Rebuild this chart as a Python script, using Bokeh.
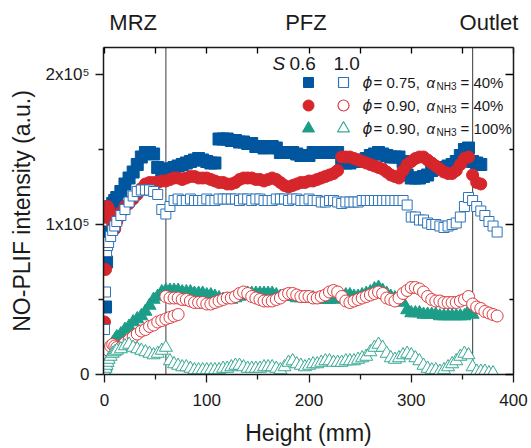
from bokeh.plotting import figure
from bokeh.models import Range1d, LinearAxis, FixedTicker, Span
from bokeh.core.properties import value
from bokeh.embed import file_html
from bokeh.resources import INLINE

# ---------------- data (NO-PLIF intensity in units of 1e5 a.u.) ----------------
heights = [0, 1, 2, 3, 4, 6, 8, 10] + list(range(12, 388, 4))

# phi=0.75, a_NH3=40%, S=0.6 (filled squares)
blue_s06 = [0.10, 0.45, 0.75, 0.95, 1.05, 1.12, 1.14, 1.16, 1.18, 1.22, 1.27, 1.31, 1.35, 1.40, 1.45, 1.48,
            1.48, 1.47, 1.38, 1.36, 1.37, 1.37, 1.38, 1.39, 1.40, 1.41, 1.42, 1.43, 1.44, 1.43, 1.42, 1.41,
            1.41, 1.57, 1.57, 1.57, 1.56, 1.56, 1.55, 1.55, 1.54, 1.54, 1.52, 1.52, 1.51, 1.52, 1.52, 1.51,
            1.48, 1.48, 1.48, 1.48, 1.47, 1.46, 1.46, 1.46, 1.48, 1.48, 1.48, 1.48, 1.48, 1.48, 1.48, 1.42,
            1.41, 1.41, 1.42, 1.42, 1.43, 1.44, 1.46, 1.47, 1.48, 1.47, 1.46, 1.45, 1.45, 1.45, 1.42, 1.33,
            1.31, 1.31, 1.31, 1.32, 1.33, 1.36, 1.37, 1.38, 1.38, 1.39, 1.40, 1.42, 1.46, 1.50, 1.51, 1.42,
            1.41, 1.40]
# phi=0.90, a_NH3=40%, S=0.6 (filled circles)
red_s06 = [0.35, 0.70, 1.05, 1.12, 1.10, 1.05, 1.00, 0.97, 1.02, 1.08, 1.12, 1.14, 1.17, 1.20, 1.24, 1.27,
           1.28, 1.28, 1.28, 1.29, 1.29, 1.30, 1.31, 1.31, 1.30, 1.31, 1.32, 1.32, 1.31, 1.31, 1.31, 1.30,
           1.29, 1.28, 1.28, 1.27, 1.27, 1.28, 1.30, 1.31, 1.31, 1.31, 1.30, 1.30, 1.29, 1.30, 1.31, 1.30,
           1.28, 1.26, 1.25, 1.26, 1.27, 1.28, 1.28, 1.29, 1.29, 1.30, 1.31, 1.32, 1.33, 1.34, 1.36, 1.45,
           1.45, 1.45, 1.44, 1.43, 1.42, 1.41, 1.40, 1.39, 1.38, 1.37, 1.35, 1.33, 1.32, 1.31, 1.36, 1.40,
           1.42, 1.44, 1.45, 1.45, 1.43, 1.41, 1.39, 1.37, 1.35, 1.34, 1.34, 1.36, 1.40, 1.44, 1.45, 1.33,
           1.28, 1.27]
# phi=0.90, a_NH3=100%, S=0.6 (filled triangles)
teal_s06 = [0.02, 0.05, 0.08, 0.11, 0.14, 0.18, 0.21, 0.23, 0.25, 0.27, 0.30, 0.32, 0.35, 0.37, 0.39, 0.42,
            0.46, 0.50, 0.52, 0.55, 0.56, 0.56, 0.56, 0.56, 0.55, 0.55, 0.55, 0.54, 0.54, 0.54, 0.53, 0.53,
            0.52, 0.51, 0.50, 0.50, 0.50, 0.51, 0.52, 0.53, 0.54, 0.54, 0.54, 0.54, 0.54, 0.54, 0.54, 0.53,
            0.52, 0.52, 0.52, 0.52, 0.51, 0.51, 0.51, 0.51, 0.51, 0.50, 0.50, 0.50, 0.50, 0.50, 0.51, 0.52,
            0.53, 0.53, 0.52, 0.52, 0.53, 0.54, 0.55, 0.57, 0.58, 0.56, 0.54, 0.52, 0.51, 0.50, 0.48, 0.43,
            0.41, 0.41, 0.41, 0.40, 0.40, 0.40, 0.40, 0.39, 0.39, 0.39, 0.39, 0.39, 0.39, 0.39, 0.42, 0.40]
# phi=0.75, a_NH3=40%, S=1.0 (open squares)
blue_s10 = [0.30, 0.55, 0.82, 0.86, 0.88, 0.92, 0.96, 0.99, 1.02, 1.06, 1.10, 1.15, 1.19, 1.22, 1.23, 1.23,
            1.23, 1.22, 1.20, 1.10, 1.07, 1.12, 1.16, 1.17, 1.16, 1.16, 1.17, 1.16, 1.16, 1.16, 1.17, 1.16,
            1.16, 1.17, 1.17, 1.17, 1.17, 1.17, 1.16, 1.17, 1.17, 1.16, 1.17, 1.17, 1.16, 1.16, 1.16, 1.17,
            1.17, 1.17, 1.16, 1.17, 1.17, 1.16, 1.16, 1.17, 1.16, 1.16, 1.15, 1.15, 1.16, 1.16, 1.15, 1.14,
            1.15, 1.15, 1.15, 1.15, 1.16, 1.16, 1.16, 1.16, 1.16, 1.16, 1.16, 1.16, 1.16, 1.16, 1.16, 1.13,
            1.05, 1.05, 1.03, 1.03, 1.01, 1.00, 1.00, 0.99, 0.98, 0.99, 1.00, 1.01, 1.05, 1.12, 1.18, 1.16,
            1.12, 1.09, 1.06, 1.02, 0.99, 0.95]
# phi=0.90, a_NH3=40%, S=1.0 (open circles): first window and main windows
red_s10_mrz_h = [0, 1, 2, 3, 4, 6, 8, 10, 12, 16, 20, 24, 28, 32, 36, 40, 44, 48, 52, 56, 60, 64, 68, 72]
red_s10_mrz = [0.03, 0.06, 0.10, 0.13, 0.16, 0.19, 0.20, 0.19, 0.18, 0.18, 0.21, 0.23, 0.25, 0.27, 0.29,
               0.30, 0.32, 0.33, 0.35, 0.36, 0.37, 0.38, 0.39, 0.40]
red_s10_pfz_h = list(range(60, 388, 4))
red_s10_pfz = [0.52, 0.51, 0.51, 0.51, 0.50, 0.50, 0.49, 0.48, 0.48, 0.48, 0.47, 0.47, 0.48, 0.49, 0.50, 0.51,
               0.51, 0.52, 0.54, 0.55, 0.54, 0.52, 0.51, 0.50, 0.49, 0.49, 0.49, 0.50, 0.51, 0.53, 0.54, 0.54,
               0.53, 0.52, 0.52, 0.52, 0.51, 0.51, 0.52, 0.53, 0.55, 0.56, 0.55, 0.52, 0.49, 0.48, 0.49, 0.50,
               0.51, 0.52, 0.53, 0.54, 0.55, 0.54, 0.51, 0.50, 0.49, 0.51, 0.54, 0.56, 0.58, 0.58, 0.57, 0.55,
               0.52, 0.50, 0.49, 0.49, 0.48, 0.48, 0.48, 0.48, 0.49, 0.50, 0.52, 0.47, 0.45, 0.44, 0.42, 0.41,
               0.40, 0.39]
# phi=0.90, a_NH3=100%, S=1.0 (open triangles)
teal_s10 = [0.02, 0.04, 0.06, 0.08, 0.10, 0.12, 0.14, 0.15, 0.16, 0.17, 0.19, 0.20, 0.18, 0.17, 0.16, 0.15,
            0.14, 0.13, 0.14, 0.16, 0.18, 0.09, 0.07, 0.06, 0.05, 0.05, 0.04, 0.03, 0.03, 0.03, 0.03, 0.03,
            0.03, 0.03, 0.04, 0.04, 0.05, 0.06, 0.06, 0.05, 0.04, 0.04, 0.04, 0.04, 0.05, 0.05, 0.05, 0.04,
            0.03, 0.05, 0.08, 0.09, 0.07, 0.06, 0.05, 0.06, 0.07, 0.07, 0.08, 0.09, 0.09, 0.08, 0.08, 0.08,
            0.09, 0.09, 0.09, 0.10, 0.11, 0.12, 0.15, 0.18, 0.20, 0.18, 0.14, 0.11, 0.10, 0.11, 0.13, 0.14,
            0.13, 0.11, 0.09, 0.06, 0.04, 0.03, 0.03, 0.02, 0.03, 0.05, 0.07, 0.09, 0.12, 0.14, 0.13, 0.05,
            0.02, 0.02, 0.02, 0.01, 0.01]

zone_bounds = [60, 360]
zone_names = ["MRZ", "PFZ", "Outlet"]
zone_label_pos = [28, 197, 376]
x_ticks = [0, 100, 200, 300, 400]
x_minor = [50, 150, 250, 350]
y_ticks = [0, 1, 2]
y_minor = [0.5, 1.5]
y_labels = {0: "0", 1: "1x10\u2075", 2: "2x10\u2075"}

legend_phi = ["0.75", "0.90", "0.90"]
legend_alpha = ["40%", "40%", "100%"]

BLUE = "#00569f"
BLUE_O = "#2f74b8"
RED = "#d7252c"
RED_O = "#dc3c42"
TEAL = "#1c9d88"
TEAL_O = "#37a895"
FONT = "Liberation Sans"

p = figure(width=530, height=448, x_range=Range1d(-1, 400), y_range=Range1d(0, 2.18),
           output_backend="svg", toolbar_location=None,
           min_border_left=103, min_border_right=17, min_border_top=47, min_border_bottom=74)
p.grid.visible = False
p.outline_line_color = None
p.background_fill_color = "white"

for xb in zone_bounds:
    p.add_layout(Span(location=xb, dimension="height", line_color="#5a5a5a", line_width=1.2,
                      level="underlay"))

# filled (S = 0.6)
p.scatter(heights[:len(blue_s06)], blue_s06, marker="square", size=12,
          fill_color=BLUE, line_color=BLUE, line_width=1)
p.scatter(heights[:len(red_s06)], red_s06, marker="circle", size=12,
          fill_color=RED, line_color=RED, line_width=1)
p.scatter(heights[:len(teal_s06)], teal_s06, marker="triangle", size=13,
          fill_color=TEAL, line_color=TEAL, line_width=1)
# open (S = 1.0)
p.scatter(heights[:len(blue_s10)], blue_s10, marker="square", size=10,
          fill_color="white", line_color=BLUE_O, line_width=1)
p.scatter(red_s10_mrz_h, red_s10_mrz, marker="circle", size=12,
          fill_color="white", line_color=RED_O, line_width=1)
p.scatter(red_s10_pfz_h, red_s10_pfz, marker="circle", size=12,
          fill_color="white", line_color=RED_O, line_width=1)
p.scatter(heights[:len(teal_s10)], teal_s10, marker="triangle", size=13,
          fill_color="white", line_color=TEAL_O, line_width=1)

# axes
xa = p.xaxis[0]
xa.ticker = FixedTicker(ticks=x_ticks, minor_ticks=x_minor)
xa.axis_label = "Height (mm)"
ya = p.yaxis[0]
ya.ticker = FixedTicker(ticks=y_ticks, minor_ticks=y_minor)
ya.major_label_overrides = y_labels
ya.axis_label = "NO-PLIF intensity (a.u.)"
for ax in (xa, ya):
    ax.axis_line_width = 1.5
    ax.axis_line_color = "#1a1a1a"
    ax.major_tick_line_color = "#1a1a1a"
    ax.minor_tick_line_color = "#1a1a1a"
    ax.major_tick_line_width = 1.3
    ax.minor_tick_line_width = 1.3
    ax.major_tick_in = 0
    ax.major_tick_out = 8
    ax.minor_tick_in = 0
    ax.minor_tick_out = 5
    ax.major_label_text_font = FONT
    ax.major_label_text_font_size = "17px"
    ax.major_label_text_color = "#1a1a1a"
    ax.axis_label_text_font = FONT
    ax.axis_label_text_font_size = "23px"
    ax.axis_label_text_font_style = "normal"
    ax.axis_label_text_color = "#1a1a1a"
xa.major_label_standoff = 11
xa.axis_label_standoff = 11
ya.major_label_standoff = 6
ya.axis_label_standoff = 8

ra = LinearAxis(ticker=FixedTicker(ticks=y_ticks, minor_ticks=y_minor))
ra.major_label_overrides = {t: "" for t in y_ticks}
ra.major_label_standoff = 0
ra.axis_line_width = 1.5
ra.axis_line_color = "#1a1a1a"
ra.major_tick_in = 8
ra.major_tick_out = 0
ra.minor_tick_in = 4
ra.minor_tick_out = 0
ra.major_tick_line_width = 1.3
ra.minor_tick_line_width = 1.3
p.add_layout(ra, "right")

ta = LinearAxis(ticker=FixedTicker(ticks=zone_label_pos, minor_ticks=list(range(0, 401, 50))))
ta.major_label_overrides = dict(zip(zone_label_pos, zone_names))
ta.major_label_text_font = FONT
ta.major_label_text_font_size = "22px"
ta.major_label_text_color = "#1a1a1a"
ta.major_label_standoff = 13
ta.axis_line_width = 1.5
ta.axis_line_color = "#1a1a1a"
ta.major_tick_in = 0
ta.major_tick_out = 0
ta.minor_tick_in = 6
ta.minor_tick_out = 0
ta.minor_tick_line_width = 1.3
p.add_layout(ta, "above")

# legend (drawn manually)
def px2x(px):
    return (px - 104) / 1.0225

def py2y(py):
    return (374 - py) / 150.0

def txt(xp, yp, s, size, italic=False, font=FONT):
    p.text(x=[px2x(xp)], y=[py2y(yp)], text=[s], text_font=value(font), text_font_size=size,
           text_font_style="italic" if italic else "normal", text_baseline="middle",
           text_align="left", text_color="#1a1a1a")

txt(272, 63, "S", "19px", italic=True)
txt(289, 63, "0.6", "19px")
txt(333, 63, "1.0", "19px")

rows_y = [82, 105, 128]
fills = [(BLUE, "square", 10), (RED, "circle", 11), (TEAL, "triangle", 12)]
opens = [(BLUE_O, "square", 10), (RED_O, "circle", 11), (TEAL_O, "triangle", 12)]
for i, ry in enumerate(rows_y):
    c, m, s = fills[i]
    p.scatter([px2x(308)], [py2y(ry)], marker=m, size=s, fill_color=c, line_color=c)
    c, m, s = opens[i]
    p.scatter([px2x(343)], [py2y(ry)], marker=m, size=s, fill_color="white", line_color=c,
              line_width=1.2)
    txt(362, ry, "\u03d5", "15px", italic=True, font="DejaVu Sans")
    txt(373, ry, "= " + legend_phi[i] + ",", "15px")
    txt(426, ry, "\u03b1", "15px", italic=True)
    txt(436, ry + 4, "NH3", "10px")
    txt(460, ry, "= " + legend_alpha[i], "15px")

open("out.html", "w").write(file_html(p, INLINE))
